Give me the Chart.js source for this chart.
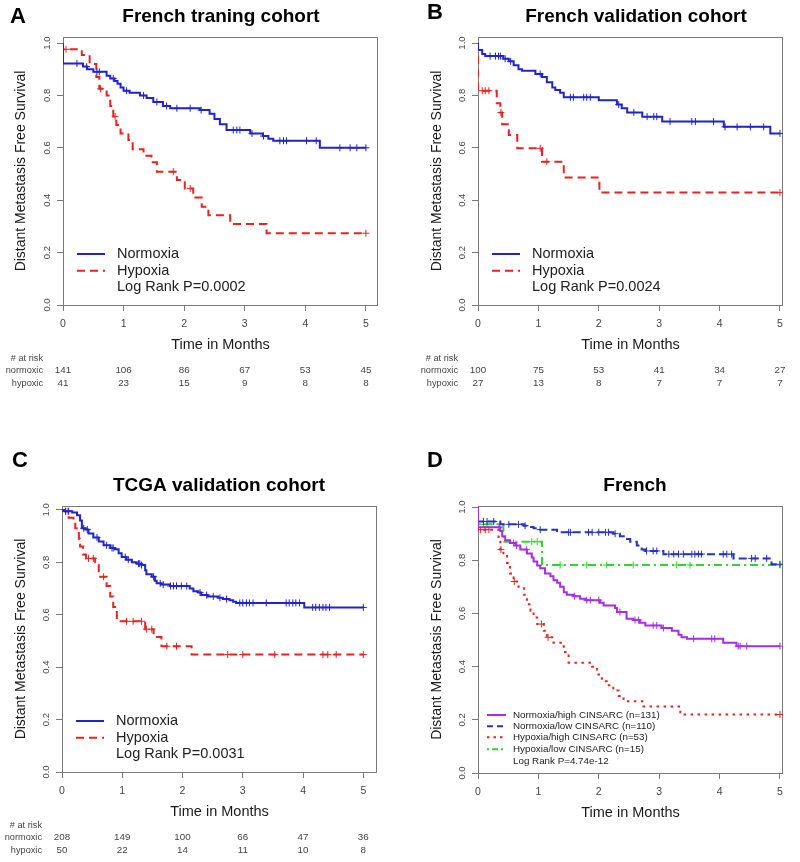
<!DOCTYPE html>
<html lang="en">
<head>
<meta charset="UTF-8">
<title>Distant Metastasis Free Survival</title>
<script src="https://cdn.jsdelivr.net/npm/chart.js"></script>
<style>
  body { margin: 0; background: #fff; }
  #wrap { position: relative; width: 800px; height: 862px; }
  canvas { position: absolute; }
</style>
</head>
<body>
<div id="wrap">
  <canvas id="chartA" width="400" height="431" style="left:0;top:0"></canvas>
  <canvas id="chartB" width="400" height="431" style="left:400px;top:0"></canvas>
  <canvas id="chartC" width="400" height="431" style="left:0;top:431px"></canvas>
  <canvas id="chartD" width="400" height="431" style="left:400px;top:431px"></canvas>
</div>

<script>
// ---------- data ----------
const monthTicks = [0, 1, 2, 3, 4, 5];
const survTicks = [0, 0.2, 0.4, 0.6, 0.8, 1.0];

// A - French training cohort
const aNormTime = [0, 0, 0.33, 0.4, 0.5, 0.72, 0.78, 0.85, 0.9, 0.95, 1.0, 1.1, 1.27, 1.38, 1.49, 1.65, 1.77, 2.26, 2.42, 2.5, 2.59, 2.7, 3.09, 3.3, 3.39, 3.47, 4.24, 5];
const aNormSurv = [1, 0.922, 0.91, 0.9, 0.89, 0.875, 0.865, 0.855, 0.845, 0.83, 0.818, 0.81, 0.8, 0.79, 0.775, 0.76, 0.751, 0.744, 0.73, 0.71, 0.69, 0.668, 0.655, 0.645, 0.635, 0.627, 0.6, 0.6];
const aNormCens = [0.23, 0.39, 0.56, 0.6, 0.83, 1.05, 1.33, 1.55, 1.71, 1.88, 2.1, 2.28, 2.81, 2.87, 2.92, 3.12, 3.31, 3.58, 3.64, 3.69, 4.02, 4.18, 4.57, 4.74, 4.85, 5];
const aHypTime = [0, 0, 0.31, 0.44, 0.55, 0.6, 0.72, 0.78, 0.83, 0.88, 0.95, 1.08, 1.15, 1.33, 1.46, 1.55, 1.88, 2.01, 2.15, 2.29, 2.4, 2.76, 3.36, 5];
const aHypSurv = [1, 0.976, 0.954, 0.92, 0.87, 0.825, 0.8, 0.76, 0.72, 0.687, 0.655, 0.63, 0.595, 0.57, 0.545, 0.509, 0.477, 0.445, 0.41, 0.375, 0.343, 0.309, 0.274, 0.274];
const aHypCens = [0.05, 0.62, 0.86, 1.82, 2.1, 5];
const aRiskNorm = [141, 106, 86, 67, 53, 45];
const aRiskHyp = [41, 23, 15, 9, 8, 8];

// B - French validation cohort
const bNormTime = [0, 0, 0.07, 0.12, 0.42, 0.51, 0.59, 0.67, 0.73, 0.95, 1.06, 1.14, 1.23, 1.28, 1.36, 1.42, 2.0, 2.3, 2.38, 2.47, 2.72, 3.05, 4.07, 4.84, 5];
const bNormSurv = [1, 0.973, 0.958, 0.95, 0.94, 0.93, 0.915, 0.9, 0.894, 0.882, 0.87, 0.85, 0.83, 0.821, 0.81, 0.793, 0.782, 0.765, 0.751, 0.735, 0.719, 0.7, 0.68, 0.655, 0.655];
const bNormCens = [0.2, 0.29, 0.34, 0.37, 0.45, 0.54, 1.03, 1.53, 1.58, 1.75, 1.8, 1.86, 2.33, 2.58, 2.8, 2.91, 2.96, 3.18, 3.54, 3.6, 3.9, 4.09, 4.29, 4.51, 4.73, 5];
const bHypTime = [0, 0, 0.31, 0.37, 0.4, 0.51, 0.65, 1.06, 1.42, 2.01, 5];
const bHypSurv = [1, 0.818, 0.77, 0.735, 0.69, 0.649, 0.598, 0.547, 0.487, 0.429, 0.429];
const bHypCens = [0.07, 0.12, 0.18, 0.38, 1.03, 1.14, 5];
const bRiskNorm = [100, 75, 53, 41, 34, 27];
const bRiskHyp = [27, 13, 8, 7, 7, 7];

// C - TCGA validation cohort
const cNormTime = [0, 0.05, 0.17, 0.25, 0.3, 0.33, 0.39, 0.44, 0.52, 0.61, 0.69, 0.8, 0.88, 0.94, 0.99, 1.07, 1.16, 1.24, 1.32, 1.38, 1.4, 1.49, 1.54, 1.57, 1.65, 1.79, 2.12, 2.18, 2.26, 2.31, 2.42, 2.59, 2.67, 2.78, 2.84, 2.89, 4.02, 5];
const cNormSurv = [1, 0.995, 0.99, 0.98, 0.96, 0.93, 0.925, 0.91, 0.895, 0.88, 0.865, 0.855, 0.85, 0.835, 0.82, 0.81, 0.8, 0.795, 0.79, 0.77, 0.755, 0.745, 0.73, 0.72, 0.715, 0.71, 0.7, 0.69, 0.685, 0.675, 0.67, 0.665, 0.66, 0.655, 0.65, 0.645, 0.628, 0.628];
const cNormCens = [0.06, 0.11, 0.36, 0.42, 0.58, 0.74, 0.83, 0.85, 1.05, 1.1, 1.27, 1.29, 1.32, 1.52, 1.63, 1.68, 1.8, 1.85, 1.9, 1.98, 2.07, 2.29, 2.4, 2.51, 2.62, 2.73, 2.95, 3.0, 3.06, 3.11, 3.17, 3.39, 3.72, 3.77, 3.83, 3.88, 3.94, 4.16, 4.21, 4.27, 4.33, 4.38, 4.44, 5];
const cHypTime = [0, 0.03, 0.11, 0.19, 0.22, 0.28, 0.3, 0.35, 0.4, 0.55, 0.61, 0.74, 0.8, 0.85, 0.91, 1.38, 1.52, 1.65, 2.15, 5];
const cHypSurv = [1, 0.995, 0.97, 0.96, 0.93, 0.89, 0.86, 0.83, 0.815, 0.8, 0.745, 0.71, 0.67, 0.63, 0.575, 0.545, 0.515, 0.48, 0.448, 0.448];
const cHypCens = [0.06, 0.1, 0.44, 0.52, 0.69, 1.07, 1.18, 1.32, 1.4, 1.49, 1.74, 1.9, 2.75, 3.0, 3.53, 4.33, 4.41, 4.55, 5];
const cRiskNorm = [208, 149, 100, 66, 47, 36];
const cRiskHyp = [50, 22, 14, 11, 10, 8];

// D - French, hypoxia x CINSARC
const dNormHighTime = [0, 0, 0.37, 0.4, 0.45, 0.53, 0.62, 0.7, 0.81, 0.89, 0.92, 0.98, 1.03, 1.11, 1.2, 1.25, 1.31, 1.36, 1.42, 1.47, 1.58, 1.69, 1.78, 2.02, 2.08, 2.27, 2.3, 2.46, 2.57, 2.68, 2.77, 3.04, 3.21, 3.32, 3.37, 3.46, 4.06, 4.28, 5];
const dNormHighSurv = [1, 0.924, 0.91, 0.89, 0.875, 0.865, 0.855, 0.84, 0.825, 0.81, 0.795, 0.78, 0.77, 0.75, 0.74, 0.725, 0.715, 0.7, 0.68, 0.67, 0.665, 0.655, 0.65, 0.64, 0.63, 0.62, 0.605, 0.58, 0.575, 0.565, 0.555, 0.545, 0.535, 0.52, 0.51, 0.505, 0.49, 0.477, 0.477];
const dNormHighCens = [0.35, 0.59, 0.64, 0.8, 1.6, 1.8, 1.86, 2.0, 2.35, 2.6, 2.66, 2.9, 2.96, 3.07, 3.57, 3.87, 3.92, 4.31, 4.34, 4.45, 5];
const dNormLowTime = [0, 0, 0.37, 0.76, 0.84, 0.92, 0.98, 1.31, 2.24, 2.35, 2.44, 2.52, 2.63, 2.71, 2.77, 3.07, 4.23, 4.86, 5];
const dNormLowSurv = [1, 0.946, 0.935, 0.93, 0.925, 0.92, 0.915, 0.905, 0.9, 0.89, 0.88, 0.87, 0.855, 0.84, 0.835, 0.823, 0.807, 0.785, 0.785];
const dNormLowCens = [0.09, 0.15, 0.26, 0.51, 0.67, 0.78, 1.03, 1.5, 1.53, 1.83, 1.89, 2.0, 2.11, 2.16, 2.27, 2.79, 2.9, 2.96, 3.16, 3.24, 3.32, 3.4, 3.54, 3.59, 3.65, 3.7, 4.06, 4.12, 4.2, 4.53, 4.59, 4.78, 5];
const dHypHighTime = [0, 0, 0.34, 0.37, 0.42, 0.48, 0.53, 0.59, 0.67, 0.76, 0.81, 0.87, 0.92, 0.98, 1.09, 1.14, 1.25, 1.42, 1.5, 1.89, 1.97, 2.05, 2.13, 2.24, 2.33, 2.41, 2.74, 3.35, 5];
const dHypHighSurv = [1, 0.915, 0.87, 0.84, 0.82, 0.79, 0.75, 0.72, 0.7, 0.67, 0.635, 0.61, 0.585, 0.56, 0.535, 0.51, 0.49, 0.455, 0.415, 0.4, 0.37, 0.345, 0.33, 0.31, 0.29, 0.27, 0.25, 0.22, 0.22];
const dHypHighCens = [0.04, 0.12, 0.18, 0.38, 0.6, 1.05, 1.16, 5];
const dHypLowTime = [0, 0, 0.42, 1.06, 5];
const dHypLowSurv = [1, 0.935, 0.87, 0.782, 0.782];
const dHypLowCens = [0.09, 0.15, 0.36, 0.89, 0.98, 1.36, 1.8, 2.13, 2.57, 3.29, 3.51, 5];

// ---------- helpers ----------
const FONT = '"Liberation Sans", Arial, sans-serif';
const BLUE = '#2124c9', RED = '#e8221f';

function steps(times, surv) {
  return times.map((t, i) => ({ x: t, y: surv[i] }));
}
function survAt(times, surv, t) {
  let s = surv[0];
  for (let i = 0; i < times.length; i++) if (times[i] <= t) s = surv[i];
  return s;
}
function curve(times, surv, color, dash) {
  return {
    data: steps(times, surv), showLine: true, stepped: true,
    borderColor: color, borderWidth: 2, borderDash: dash,
    pointRadius: 0, fill: false
  };
}
function censor(times, surv, cens, color) {
  return {
    data: cens.map(t => ({ x: t, y: survAt(times, surv, t) })),
    showLine: false, pointStyle: 'cross', pointRadius: 3.5,
    borderColor: color, borderWidth: 1
  };
}

// box, titles, rotated y labels, legend, risk table
const kmDecor = {
  id: 'kmDecor',
  beforeDatasetsDraw(chart) {
    const { ctx, chartArea: a } = chart;
    ctx.save();
    ctx.strokeStyle = '#7a7a7a';
    ctx.lineWidth = 1;
    ctx.strokeRect(Math.round(a.left) + 0.5, Math.round(a.top) + 0.5, Math.round(a.width) - 1, Math.round(a.height));
    ctx.restore();
  },
  afterDraw(chart, args, o) {
    const { ctx, chartArea: a, scales: { x, y } } = chart;
    ctx.save();
    ctx.fillStyle = '#000';
    ctx.textBaseline = 'alphabetic';
    ctx.textAlign = 'left';
    ctx.font = 'bold 22px ' + FONT;
    ctx.fillText(o.letter, o.letterX, o.letterY);
    ctx.textAlign = 'center';
    ctx.font = 'bold 19px ' + FONT;
    ctx.fillText(o.title, o.titleX, o.titleY);

    // y tick labels, R style (rotated)
    ctx.fillStyle = '#444';
    ctx.font = '9.5px ' + FONT;
    y.ticks.forEach(t => {
      ctx.save();
      ctx.translate(a.left - 16, y.getPixelForValue(t.value));
      ctx.rotate(-Math.PI / 2);
      ctx.textAlign = 'center';
      ctx.textBaseline = 'middle';
      ctx.fillText(t.value.toFixed(1), 0, 0);
      ctx.restore();
    });

    // legend inside the plot
    const lg = o.legend;
    ctx.font = lg.size + 'px ' + FONT;
    ctx.textAlign = 'left';
    ctx.textBaseline = 'middle';
    lg.rows.forEach((r, i) => {
      const ry = a.bottom + r;
      const item = lg.items[i];
      if (item.color) {
        ctx.save();
        ctx.strokeStyle = item.color;
        ctx.lineWidth = 2;
        ctx.setLineDash(item.dash || []);
        ctx.beginPath();
        ctx.moveTo(a.left + lg.x0, ry);
        ctx.lineTo(a.left + lg.x1, ry);
        ctx.stroke();
        ctx.restore();
      }
      ctx.fillStyle = '#222';
      ctx.fillText(item.text, a.left + lg.tx, ry);
    });

    // number at risk
    if (o.risk) {
      ctx.font = '9.2px ' + FONT;
      ctx.fillStyle = '#444';
      ctx.textAlign = 'right';
      const lx = a.left - 20;
      ctx.fillText('# at risk', lx, a.bottom + 53.5);
      ctx.fillText('normoxic', lx, a.bottom + 65.5);
      ctx.fillText('hypoxic', lx, a.bottom + 78);
      ctx.font = '9.8px ' + FONT;
      ctx.textAlign = 'center';
      monthTicks.forEach((m, i) => {
        const px = x.getPixelForValue(m);
        ctx.fillText(String(o.risk[0][i]), px, a.bottom + 65.5);
        ctx.fillText(String(o.risk[1][i]), px, a.bottom + 78);
      });
    }
    ctx.restore();
  }
};

function makePanel(id, p, datasets, decor) {
  const yTitleSize = 14;
  const padL = p.yTitleX - yTitleSize * 0.6 - 2;
  const yWidth = p.l - padL;
  const xHeight = 50;
  return new Chart(document.getElementById(id).getContext('2d'), {
    type: 'scatter',
    data: { datasets },
    plugins: [kmDecor],
    options: {
      responsive: false,
      animation: false,
      events: [],
      layout: { autoPadding: false, padding: { left: padL, top: p.t, right: 400 - p.r, bottom: 431 - p.b - xHeight } },
      scales: {
        x: {
          type: 'linear', min: 0, max: p.xMax,
          afterBuildTicks: s => { s.ticks = monthTicks.map(v => ({ value: v })); },
          afterFit: s => { s.height = xHeight; },
          border: { display: false },
          grid: { drawOnChartArea: false, drawTicks: true, tickLength: 6, color: '#7a7a7a' },
          ticks: { color: '#444', font: { family: FONT, size: 10.5 }, padding: 7, maxRotation: 0, autoSkip: false },
          title: { display: true, text: 'Time in Months', color: '#1a1a1a', font: { family: FONT, size: 14.5 }, padding: { top: 0, bottom: 1.3 } }
        },
        y: {
          type: 'linear', min: 0, max: p.yMax,
          afterBuildTicks: s => { s.ticks = survTicks.map(v => ({ value: v })); },
          afterFit: s => { s.width = yWidth; },
          border: { display: false },
          grid: { drawOnChartArea: false, drawTicks: true, tickLength: 6, color: '#7a7a7a' },
          ticks: { display: false },
          title: { display: true, text: 'Distant Metastasis Free Survival', color: '#1a1a1a', font: { family: FONT, size: yTitleSize }, padding: { top: 2, bottom: 0 } }
        }
      },
      plugins: { legend: { display: false }, tooltip: { enabled: false }, kmDecor: decor }
    }
  });
}

const twoLegend = (p) => ({
  size: 14.5, x0: 14, x1: 42, tx: 54, rows: [-51, -34.3, -17.6],
  items: [
    { text: 'Normoxia', color: BLUE, dash: [] },
    { text: 'Hypoxia', color: RED, dash: [8, 5] },
    { text: 'Log Rank P=' + p }
  ]
});

makePanel('chartA', { l: 63, t: 37, r: 378, b: 305, xMax: 5.2, yMax: 1.023, yTitleX: 21 }, [
  curve(aNormTime, aNormSurv, BLUE, []),
  censor(aNormTime, aNormSurv, aNormCens, BLUE),
  curve(aHypTime, aHypSurv, RED, [8, 5]),
  censor(aHypTime, aHypSurv, aHypCens, RED)
], { letter: 'A', letterX: 10, letterY: 23, title: 'French traning cohort', titleX: 221, titleY: 21.5,
     legend: twoLegend('0.0002'), risk: [aRiskNorm, aRiskHyp] });

makePanel('chartB', { l: 78, t: 37, r: 383, b: 305, xMax: 5.05, yMax: 1.023, yTitleX: 37 }, [
  curve(bNormTime, bNormSurv, BLUE, []),
  censor(bNormTime, bNormSurv, bNormCens, BLUE),
  curve(bHypTime, bHypSurv, RED, [8, 5]),
  censor(bHypTime, bHypSurv, bHypCens, RED)
], { letter: 'B', letterX: 27, letterY: 19, title: 'French validation cohort', titleX: 236, titleY: 21.5,
     legend: twoLegend('0.0024'), risk: [bRiskNorm, bRiskHyp] });

makePanel('chartC', { l: 62, t: 75, r: 377, b: 341, xMax: 5.227, yMax: 1.015, yTitleX: 21 }, [
  curve(cNormTime, cNormSurv, BLUE, []),
  censor(cNormTime, cNormSurv, cNormCens, BLUE),
  curve(cHypTime, cHypSurv, RED, [8, 5]),
  censor(cHypTime, cHypSurv, cHypCens, RED)
], { letter: 'C', letterX: 12, letterY: 36, title: 'TCGA validation cohort', titleX: 219, titleY: 60,
     legend: twoLegend('0.0031'), risk: [cRiskNorm, cRiskHyp] });

const PURPLE = '#a32ee6', DBLUE = '#2433c2', DRED = '#e8231f', GREEN = '#2bd92b';
makePanel('chartD', { l: 78, t: 75, r: 383, b: 342, xMax: 5.05, yMax: 1.004, yTitleX: 37 }, [
  curve(dNormHighTime, dNormHighSurv, PURPLE, []),
  censor(dNormHighTime, dNormHighSurv, dNormHighCens, PURPLE),
  curve(dNormLowTime, dNormLowSurv, DBLUE, [8, 4]),
  censor(dNormLowTime, dNormLowSurv, dNormLowCens, DBLUE),
  curve(dHypHighTime, dHypHighSurv, DRED, [2.5, 4.5]),
  censor(dHypHighTime, dHypHighSurv, dHypHighCens, DRED),
  curve(dHypLowTime, dHypLowSurv, GREEN, [2, 4, 8, 4]),
  censor(dHypLowTime, dHypLowSurv, dHypLowCens, GREEN)
], { letter: 'D', letterX: 27, letterY: 36, title: 'French', titleX: 235, titleY: 60,
     legend: {
       size: 9.8, x0: 9, x1: 28, tx: 35, rows: [-58, -46.7, -35.7, -23.7, -11.3],
       items: [
         { text: 'Normoxia/high CINSARC (n=131)', color: PURPLE, dash: [] },
         { text: 'Normoxia/low CINSARC (n=110)', color: DBLUE, dash: [6, 4] },
         { text: 'Hypoxia/high CINSARC (n=53)', color: DRED, dash: [2.5, 4] },
         { text: 'Hypoxia/low CINSARC (n=15)', color: GREEN, dash: [2, 3, 6, 3] },
         { text: 'Log Rank P=4.74e-12' }
       ]
     } });
</script>
</body>
</html>
